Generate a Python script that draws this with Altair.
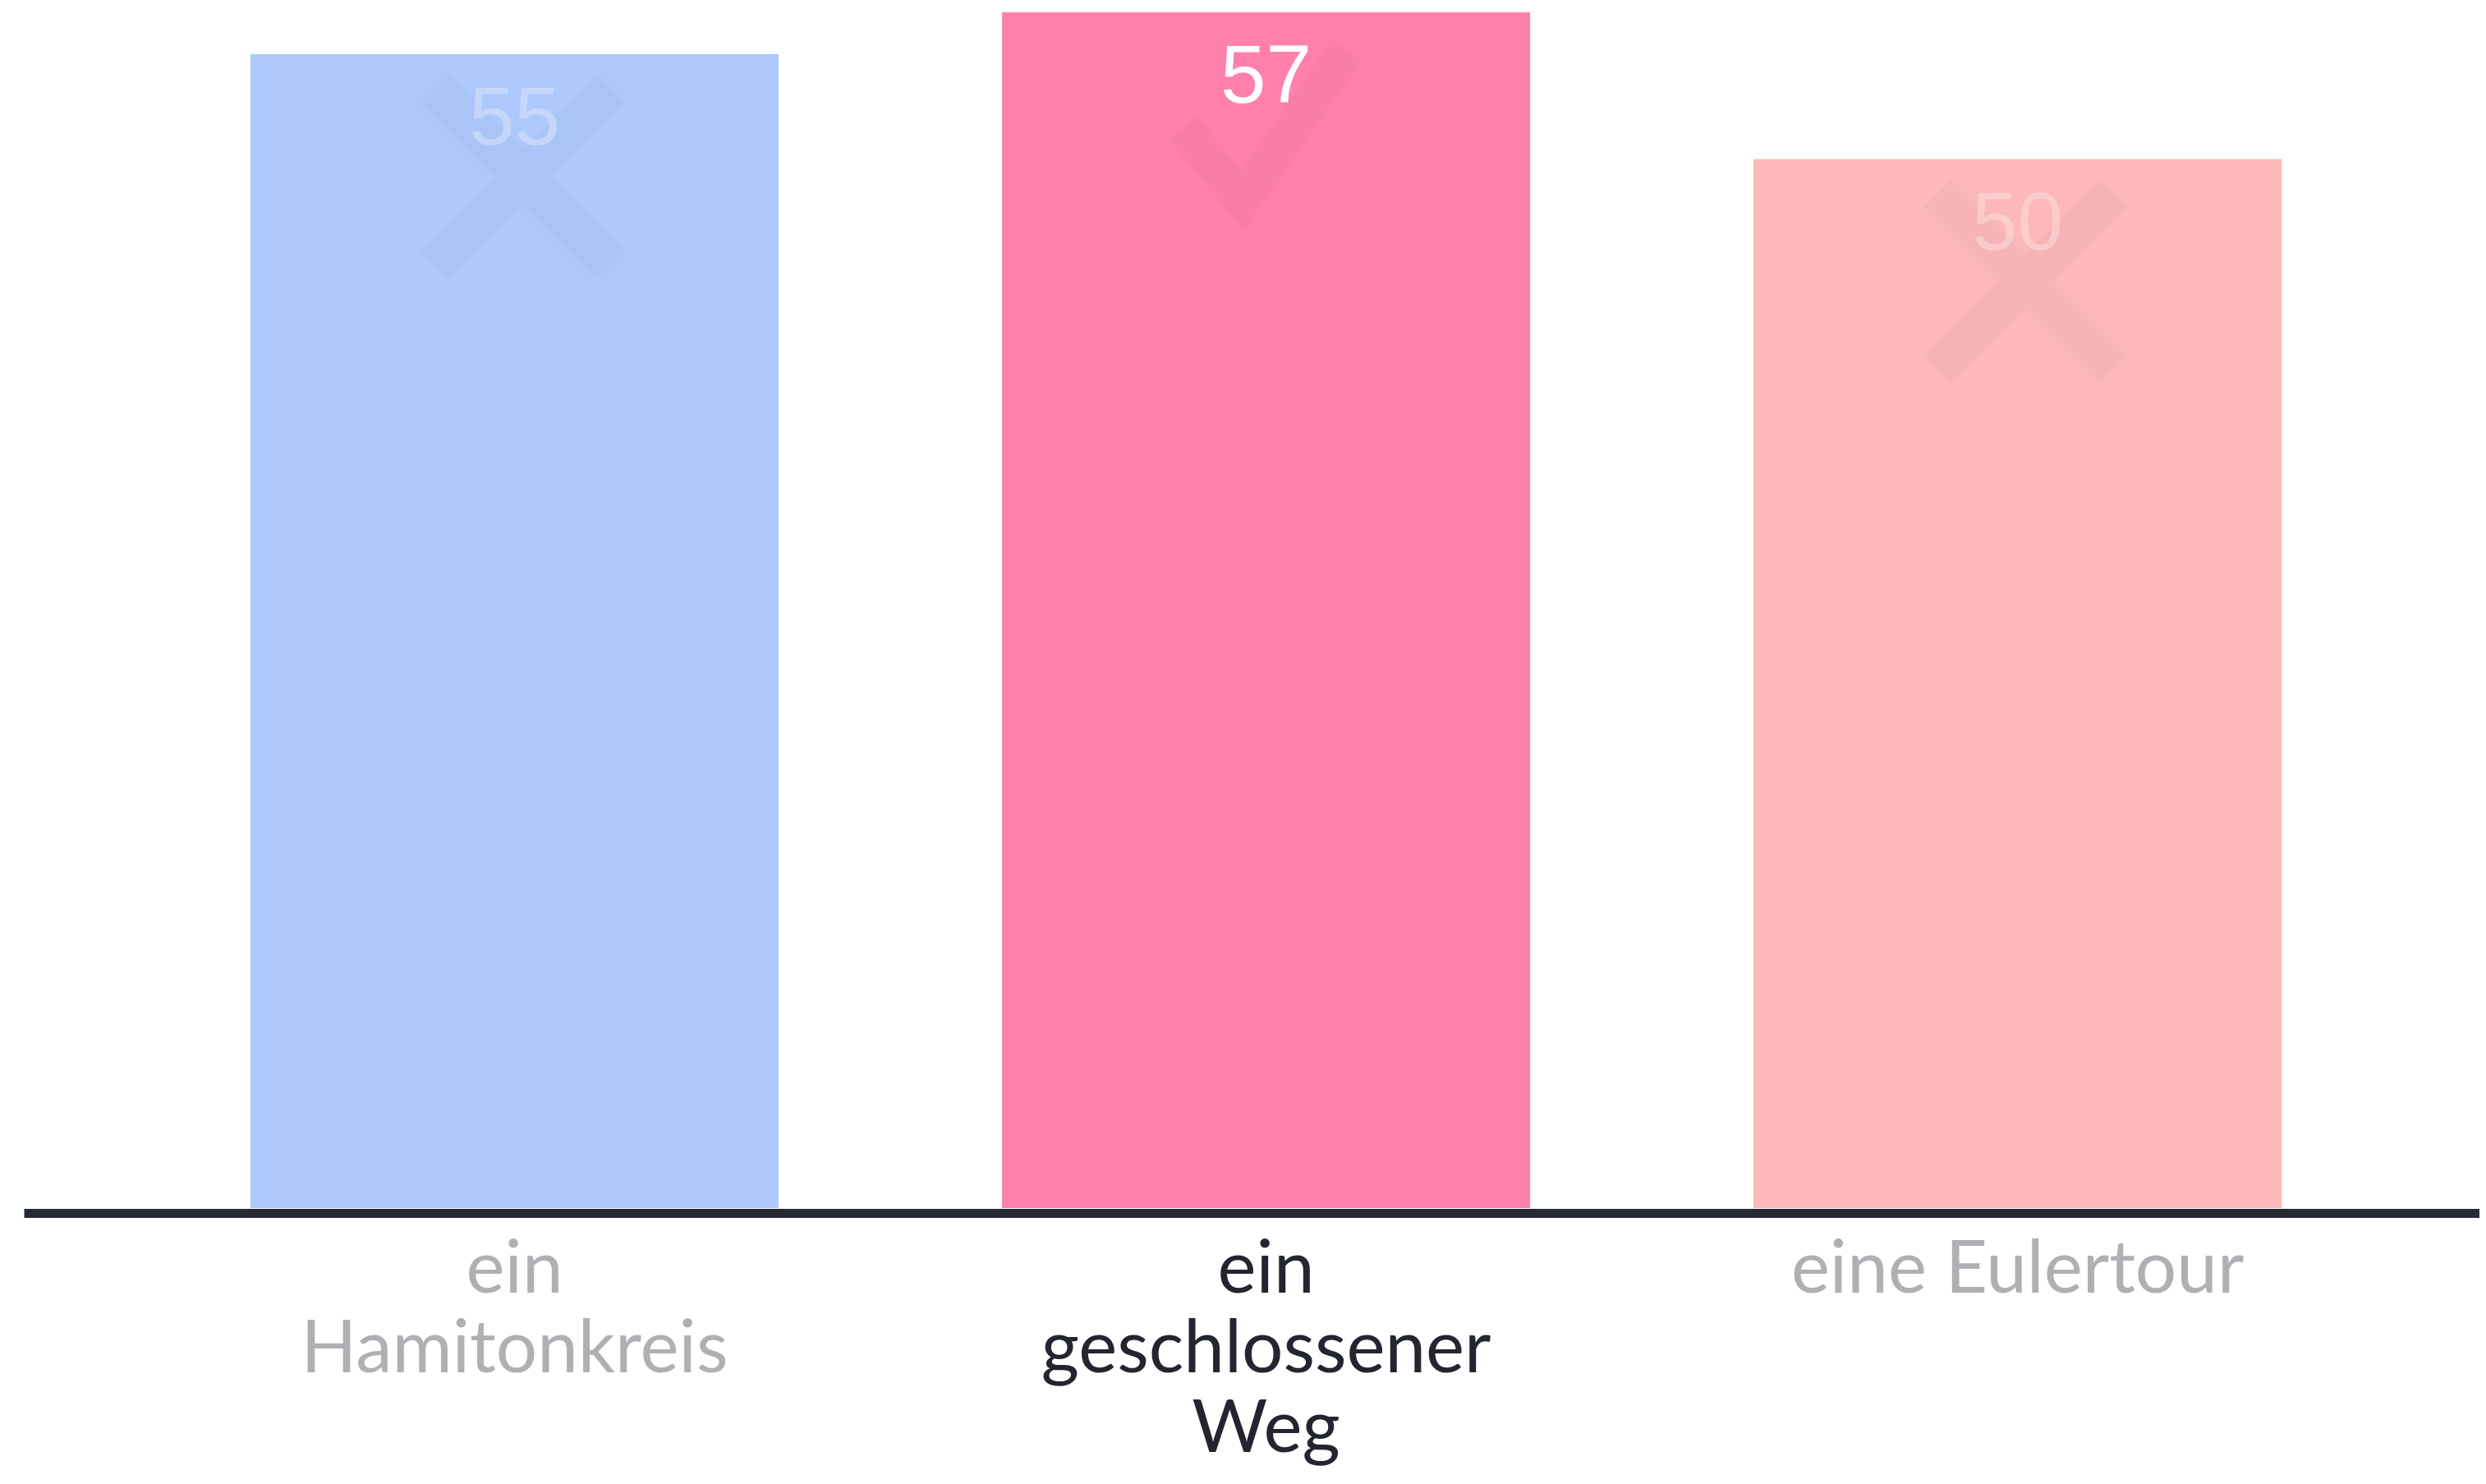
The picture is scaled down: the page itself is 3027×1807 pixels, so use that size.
import altair as alt
import pandas as pd

# ---- data ----
categories = ["ein|Hamitonkreis", "ein|geschlossener|Weg", "eine Eulertour"]
votes = [55, 57, 50]
correct = [False, True, False]
bar_colors = ["#adc8fc", "#ff80a9", "#fdb8b9"]

df = pd.DataFrame({"answer": categories, "votes": votes, "correct": correct})

x = alt.X(
    "answer:N",
    sort=categories,
    scale=alt.Scale(paddingInner=0.2973, paddingOuter=0.2825, align=0.534),
    axis=alt.Axis(
        title=None,
        labelExpr="split(datum.label, '|')",
        labelAngle=0,
        ticks=False,
        tickSize=0,
        labelPadding=96,
        labelBaseline="alphabetic",
        labelAlign="center",
        labelFont="Lato",
        labelFontSize=89,
        labelLineHeight=97,
        labelColor={
            "condition": {"test": "datum.value == 'ein|geschlossener|Weg'", "value": "#23252f"},
            "value": "#b0b0b4",
        },
        labelLimit=0,
        labelOverlap=False,
        labelFlush=False,
        domainColor="#262a33",
        domainWidth=11,
        domainCap="butt",
        offset=6,
        grid=False,
    ),
)
y = alt.Y("votes:Q", scale=alt.Scale(domain=[0, 57], nice=False, zero=True), axis=None)

base = alt.Chart(df).encode(x=x, y=y)

bars = base.mark_bar().encode(
    color=alt.Color("answer:N", scale=alt.Scale(domain=categories, range=bar_colors), legend=None)
)

crosses = base.transform_filter("!datum.correct").mark_point(
    shape="M-1,-1L1,1M1,-1L-1,1",
    size=46000,
    filled=False,
    strokeWidth=48,
    strokeCap="butt",
    color="#6a6a80",
    opacity=0.035,
    yOffset=149,
    xOffset=10,
)

checks = base.transform_filter("datum.correct").mark_point(
    shape="M-0.95,0L-0.24,0.87L1,-0.92",
    size=42000,
    filled=False,
    strokeWidth=44,
    strokeCap="butt",
    color="#6a6a80",
    opacity=0.045,
    yOffset=140,
    xOffset=-4,
)

labels = base.mark_text(
    font="Liberation Sans",
    fontSize=100,
    color="white",
    dy=110,
    baseline="alphabetic",
    align="center",
).encode(
    text="votes:Q",
    opacity=alt.condition("datum.correct", alt.value(1.0), alt.value(0.3)),
)

chart = (
    alt.layer(bars, crosses, checks, labels)
    .properties(
        width=2990,
        height=1456,
        background="white",
        autosize=alt.AutoSizeParams(type="none"),
        padding={"left": 21, "top": 7, "right": 0, "bottom": 323},
    )
    .configure_view(stroke=None)
)

chart.save("out.html", embed_options={"renderer": "svg", "actions": False})
